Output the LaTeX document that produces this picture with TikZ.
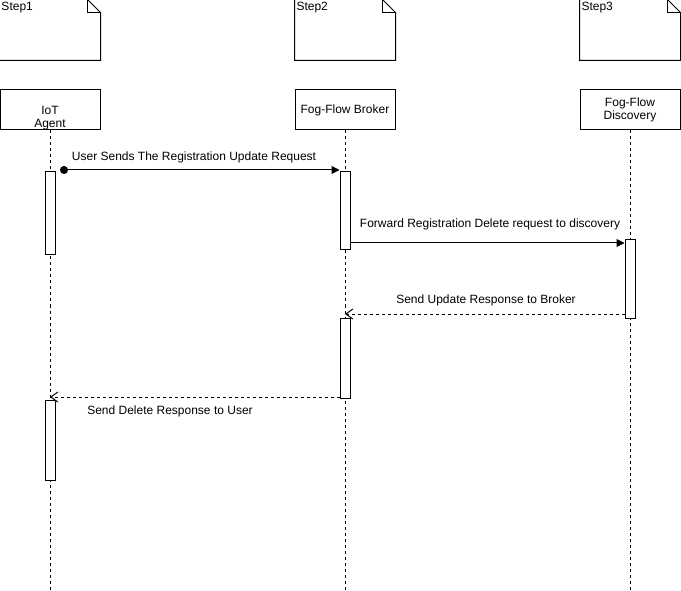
\documentclass[tikz,border=0pt]{standalone}
\usepackage{fontspec}
\setmainfont{Liberation Sans}
\usetikzlibrary{positioning,arrows.meta}
\begin{document}
\begin{tikzpicture}[x=1pt,y=-1pt,line width=1pt,font=\fontsize{12}{14}\selectfont,
  note/.style = {minimum width=100pt, minimum height=60pt, inner sep=0pt},
  head/.style = {draw, minimum width=100pt, minimum height=40pt, inner sep=0pt, align=center},
  act/.style = {draw, fill=white, minimum width=10pt, inner sep=0pt},
  life/.style = {dash pattern=on 3pt off 3pt},
  msg/.style = {-{Triangle[length=8pt,width=8pt]}},
  reply/.style = {dash pattern=on 3pt off 3pt, -{Straight Barb[length=7pt,width=10pt]}}]
  \useasboundingbox (0,0) rectangle (681,591);
  % step notes
  \node[note] (s1) at (50,30) {};
  \node[note] (s2) at (345,30) {};
  \node[note] (s3) at (630,30) {};
  \draw (s1.north west) -- ([xshift=-13pt]s1.north east) -- ([yshift=-13pt]s1.north east) -- (s1.south east) -- (s1.south west) -- cycle;
  \draw ([xshift=-13pt]s1.north east) -- ([xshift=-13pt,yshift=-13pt]s1.north east) -- ([yshift=-13pt]s1.north east);
  \draw (s2.north west) -- ([xshift=-13pt]s2.north east) -- ([yshift=-13pt]s2.north east) -- (s2.south east) -- (s2.south west) -- cycle;
  \draw ([xshift=-13pt]s2.north east) -- ([xshift=-13pt,yshift=-13pt]s2.north east) -- ([yshift=-13pt]s2.north east);
  \draw (s3.north west) -- ([xshift=-13pt]s3.north east) -- ([yshift=-13pt]s3.north east) -- (s3.south east) -- (s3.south west) -- cycle;
  \draw ([xshift=-13pt]s3.north east) -- ([xshift=-13pt,yshift=-13pt]s3.north east) -- ([yshift=-13pt]s3.north east);
  \node[anchor=north west, inner xsep=1.5pt, inner ysep=2.5pt] (t1) at (s1.north west) {Step1};
  \node[anchor=north west, inner xsep=1.5pt, inner ysep=2.5pt] (t2) at (s2.north west) {Step2};
  \node[anchor=north west, inner xsep=1.5pt, inner ysep=2.5pt] (t3) at (s3.north west) {Step3};
  % lifelines
  \node[head] (a) at (50,110) {};
  \node (at) at (50,118) [align=center] {IoT\\[-1pt]Agent};
  \node[head] (b) at (345,110) {Fog-Flow Broker};
  \node[head] (d) at (630,110) {Fog-Flow\\[-1pt]Discovery};
  \coordinate (ae) at (50,591);
  \coordinate (be) at (345,591);
  \coordinate (de) at (630,591);
  \draw[life] (a.south) -- (ae);
  \draw[life] (b.south) -- (be);
  \draw[life] (d.south) -- (de);
  % activations
  \node[act, minimum height=83pt] (a1) at (50,213.5) {};
  \node[act, minimum height=80pt] (a2) at (50,440) {};
  \node[act, minimum height=78pt] (b1) at (345,211) {};
  \node[act, minimum height=80pt] (b2) at (345,358) {};
  \node[act, minimum height=78pt] (d1) at (630,279) {};
  % messages
  \coordinate (m1) at (60,170);
  \coordinate (m2) at (350,243);
  \coordinate (m3) at (625,314);
  \coordinate (m4) at (340,397);
  \draw[{Circle[length=8pt]}-{Triangle[length=8pt,width=8pt]}] (m1) -- (m1 -| b1.west);
  \draw[msg] (m2) -- (m2 -| d1.west);
  \draw[reply] (m3) -- (m3 -| b);
  \draw[reply] (m4) -- (m4 -| a);
  \node (l1) at (194,157) {User Sends The Registration Update Request};
  \node (l2) at (490,224) {Forward Registration Delete request to discovery};
  \node (l3) at (486,300) {Send Update Response to Broker};
  \node (l4) at (170,411) {Send Delete Response to User};
\end{tikzpicture}
\end{document}
